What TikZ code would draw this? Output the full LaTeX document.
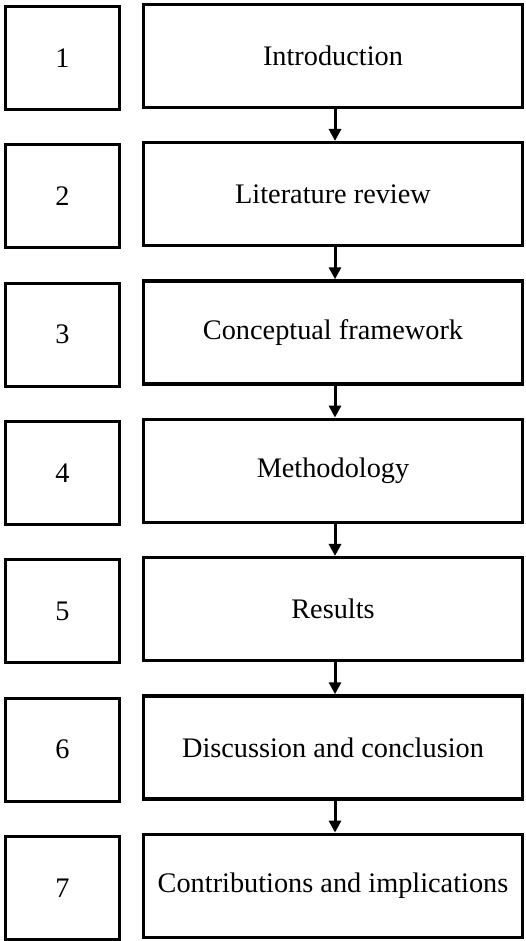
\documentclass[tikz,border=0pt]{standalone}
\usepackage{fontspec}
\setmainfont{Liberation Serif}
\usetikzlibrary{arrows.meta}
\begin{document}
\begin{tikzpicture}[x=1pt,y=-1pt,
  numbox/.style={draw=black,line width=3.3pt,fill=white,minimum width=114pt,minimum height=103pt,inner sep=0pt,font=\fontsize{28.3}{34}\selectfont},
  stagebox/.style={draw=black,line width=3.3pt,fill=white,minimum width=379pt,minimum height=103pt,inner sep=0pt,font=\fontsize{28.3}{34}\selectfont},
  flow/.style={line width=3pt,-{Triangle[width=12pt,length=12pt]}}]
\useasboundingbox (0,0) rectangle (526,941);
% numbered boxes on the left, chapter titles on the right
\foreach \k/\t in {1/Introduction,2/Literature review,3/Conceptual framework,4/Methodology,5/Results,6/Discussion and conclusion,7/Contributions and implications}{
  \node[numbox] (l\k) at (62.5,{58+138.33*(\k-1)}) {\k};
  \node[stagebox] (r\k) at (333,{55.75+138.33*(\k-1)}) {\t};
}
% arrows linking consecutive chapters
\foreach \a/\b in {1/2,2/3,3/4,4/5,5/6,6/7}{
  \draw[flow] ([xshift=2pt]r\a.south) -- ([xshift=2pt]r\b.north);
}
\end{tikzpicture}
\end{document}
